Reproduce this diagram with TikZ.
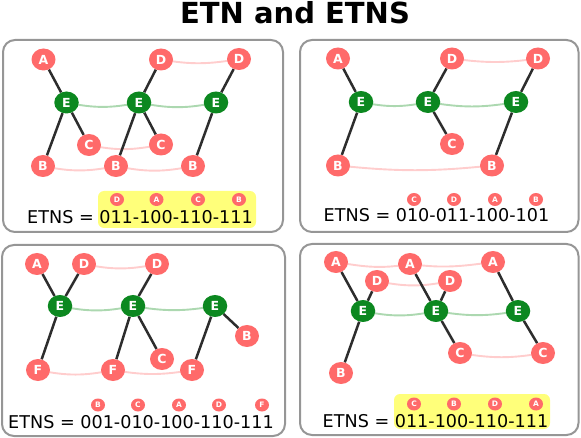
\documentclass[tikz,border=0pt]{standalone}
\usepackage{fontspec}
\setmainfont{DejaVu Sans}
\usetikzlibrary{shapes.geometric,backgrounds}
\definecolor{nred}{RGB}{255,106,106}
\definecolor{ngreen}{RGB}{12,136,32}
\definecolor{cpink}{RGB}{255,205,205}
\definecolor{cgreen}{RGB}{172,216,176}
\definecolor{frame}{RGB}{150,150,150}
\definecolor{hl}{RGB}{255,255,122}
\definecolor{edgec}{RGB}{45,45,45}
\tikzset{
  rn/.style={ellipse,fill=nred,inner sep=0pt,minimum width=24pt,minimum height=22pt,text=white,font=\fontsize{12.5}{12.5}\selectfont\bfseries},
  gn/.style={ellipse,fill=ngreen,inner sep=0pt,minimum width=24.5pt,minimum height=22pt,text=white,font=\fontsize{12.5}{12.5}\selectfont\bfseries},
  sb/.style={ellipse,fill=nred,inner sep=0pt,minimum width=14pt,minimum height=13pt,text=white,font=\fontsize{7.5}{7.5}\selectfont\bfseries},
  panel/.style={draw=frame,line width=2pt,rounded corners=12pt},
  hlbox/.style={fill=hl,rounded corners=6pt},
  tree/.style={draw=edgec,line width=2.5pt},
  pk/.style={draw=cpink,line width=1.9pt},
  gk/.style={draw=cgreen,line width=1.9pt},
  etns/.style={anchor=base,inner sep=0pt,font=\fontsize{17.6}{18}\selectfont},
}
\begin{document}
\begin{tikzpicture}[x=1pt,y=-1pt]
\useasboundingbox (0,0) rectangle (581,438);
\node[font=\fontsize{29}{30}\selectfont\bfseries] (title) at (295,12.5) {ETN and ETNS};
% panels
\draw[panel] (3,40) rectangle (283,232);
\draw[panel] (300,40) rectangle (578.5,232);
\draw[panel] (2,245) rectangle (285,436);
\draw[panel] (300,244) rectangle (578.5,435);
\fill[hlbox] (98,191) rectangle (256,228);
\fill[hlbox] (394,394) rectangle (550,429);

% ---------- panel 1 ----------
\node[rn] (a1A) at (43.5,59.5) {A};
\node[rn] (a1D1) at (161,59.5) {D};
\node[rn] (a1D2) at (239,59) {D};
\node[gn] (a1E1) at (66.5,102.5) {E};
\node[gn] (a1E2) at (139,102.5) {E};
\node[gn] (a1E3) at (216,102.5) {E};
\node[rn] (a1C1) at (89,145) {C};
\node[rn] (a1C2) at (161,144.5) {C};
\node[rn] (a1B1) at (43,166) {B};
\node[rn] (a1B2) at (116,166) {B};
\node[rn] (a1B3) at (193,166) {B};
\node[sb] (a1s1) at (117,199.5) {D};
\node[sb] (a1s2) at (156.5,199.5) {A};
\node[sb] (a1s3) at (198,199.5) {C};
\node[sb] (a1s4) at (239,199.5) {B};
\node[etns] (a1t) at (140,224) {ETNS = 011-100-110-111};
\begin{scope}[on background layer]
\draw[pk] (a1D1.center) to[out=-10,in=190] (a1D2.center);
\draw[pk] (a1C1.center) to[out=-12,in=192] (a1C2.center);
\draw[pk] (a1B1.center) to[out=-12,in=192] (a1B2.center) to[out=-12,in=192] (a1B3.center);
\draw[gk] (a1E1.center) to[out=-12,in=192] (a1E2.center) to[out=-12,in=192] (a1E3.center);
\draw[tree] (a1A) -- (a1E1) -- (a1C1);
\draw[tree] (a1E1) -- (a1B1);
\draw[tree] (a1D1) -- (a1E2) -- (a1C2);
\draw[tree] (a1E2) -- (a1B2);
\draw[tree] (a1D2) -- (a1E3) -- (a1B3);
\end{scope}

% ---------- panel 2 ----------
\node[rn] (b1A) at (338,58.5) {A};
\node[rn] (b1D1) at (452,58.5) {D};
\node[rn] (b1D2) at (538,58.5) {D};
\node[gn] (b1E1) at (361,102) {E};
\node[gn] (b1E2) at (428,102) {E};
\node[gn] (b1E3) at (516,102) {E};
\node[rn] (b1C) at (452,144) {C};
\node[rn] (b1B1) at (338,165.5) {B};
\node[rn] (b1B2) at (492,165.5) {B};
\node[sb] (b1s1) at (414,199.5) {C};
\node[sb] (b1s2) at (454,199.5) {D};
\node[sb] (b1s3) at (495,199.5) {A};
\node[sb] (b1s4) at (536,199.5) {B};
\node[etns] (b1t) at (436.5,222) {ETNS = 010-011-100-101};
\begin{scope}[on background layer]
\draw[pk] (b1D1.center) to[out=-8,in=188] (b1D2.center);
\draw[pk] (b1B1.center) to[out=-6,in=186] (b1B2.center);
\draw[gk] (b1E1.center) to[out=-12,in=192] (b1E2.center) to[out=-10,in=190] (b1E3.center);
\draw[tree] (b1A) -- (b1E1) -- (b1B1);
\draw[tree] (b1D1) -- (b1E2) -- (b1C);
\draw[tree] (b1D2) -- (b1E3) -- (b1B2);
\end{scope}

% ---------- panel 3 ----------
\node[rn] (c1A) at (37,264) {A};
\node[rn] (c1D1) at (84,264) {D};
\node[rn] (c1D2) at (157,264) {D};
\node[gn] (c1E1) at (60,306) {E};
\node[gn] (c1E2) at (133,306) {E};
\node[gn] (c1E3) at (215,306) {E};
\node[rn] (c1B) at (247,336) {B};
\node[rn] (c1C) at (162,359) {C};
\node[rn] (c1F1) at (38,370) {F};
\node[rn] (c1F2) at (113,370) {F};
\node[rn] (c1F3) at (192,370) {F};
\node[sb] (c1s1) at (98,405) {B};
\node[sb] (c1s2) at (138,405) {C};
\node[sb] (c1s3) at (179,405) {A};
\node[sb] (c1s4) at (219,405) {D};
\node[sb] (c1s5) at (262,405) {F};
\node[etns] (c1t) at (141,428) {ETNS = 001-010-100-110-111};
\begin{scope}[on background layer]
\draw[pk] (c1D1.center) to[out=-12,in=192] (c1D2.center);
\draw[pk] (c1F1.center) to[out=-12,in=192] (c1F2.center) to[out=-10,in=190] (c1F3.center);
\draw[gk] (c1E1.center) to[out=-12,in=192] (c1E2.center) to[out=-10,in=190] (c1E3.center);
\draw[tree] (c1A) -- (c1E1) -- (c1F1);
\draw[tree] (c1D1) -- (c1E1);
\draw[tree] (c1D2) -- (c1E2) -- (c1F2);
\draw[tree] (c1E2) -- (c1C);
\draw[tree] (c1E3) -- (c1F3);
\draw[tree] (c1E3) -- (c1B);
\end{scope}

% ---------- panel 4 ----------
\node[rn] (d1A1) at (336,262) {A};
\node[rn] (d1A2) at (410,264) {A};
\node[rn] (d1A3) at (493,262) {A};
\node[rn] (d1D1) at (377,281) {D};
\node[rn] (d1D2) at (450,281) {D};
\node[gn] (d1E1) at (363,311) {E};
\node[gn] (d1E2) at (436,311) {E};
\node[gn] (d1E3) at (518,311) {E};
\node[rn] (d1B) at (341,373) {B};
\node[rn] (d1C1) at (460,353) {C};
\node[rn] (d1C2) at (543,353) {C};
\node[sb] (d1s1) at (414,404) {C};
\node[sb] (d1s2) at (454,404) {B};
\node[sb] (d1s3) at (495,404) {D};
\node[sb] (d1s4) at (536,404) {A};
\node[etns] (d1t) at (435.5,427.5) {ETNS = 011-100-110-111};
\begin{scope}[on background layer]
\draw[pk] (d1A1.center) to[out=-10,in=190] (d1A2.center) to[out=-8,in=188] (d1A3.center);
\draw[pk] (d1D1.center) to[out=-12,in=192] (d1D2.center);
\draw[pk] (d1C1.center) to[out=-10,in=190] (d1C2.center);
\draw[gk] (d1E1.center) to[out=-12,in=192] (d1E2.center) to[out=-10,in=190] (d1E3.center);
\draw[tree] (d1A1) -- (d1E1) -- (d1B);
\draw[tree] (d1D1) -- (d1E1);
\draw[tree] (d1A2) -- (d1E2) -- (d1C1);
\draw[tree] (d1D2) -- (d1E2);
\draw[tree] (d1A3) -- (d1E3) -- (d1C2);
\end{scope}
\end{tikzpicture}
\end{document}
